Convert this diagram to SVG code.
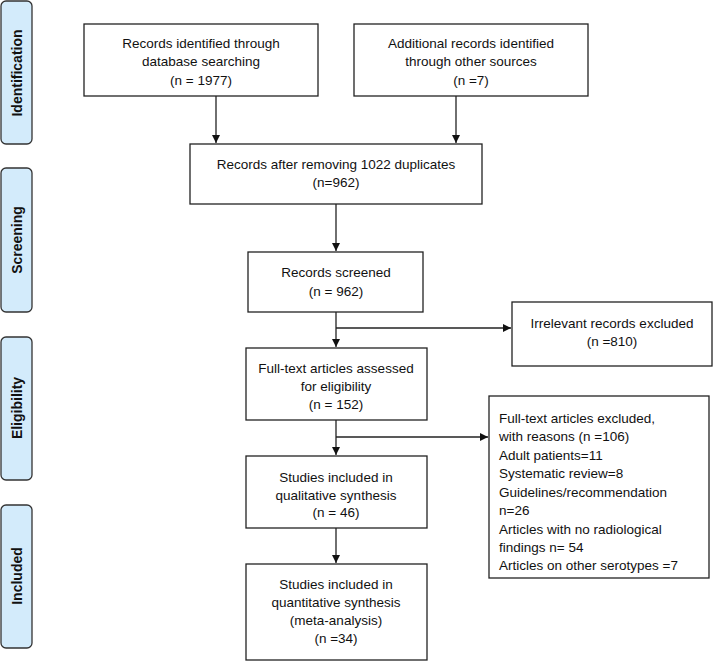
<svg xmlns="http://www.w3.org/2000/svg" width="713" height="661" viewBox="0 0 713 661">
<defs>
<style>
.box{fill:#fff;stroke:#222;stroke-width:1.3}
.side{fill:#d3ebfb;stroke:#333;stroke-width:1.3}
.t{font-family:"Liberation Sans",Arial,sans-serif;font-size:13.5px;fill:#111}
.c{text-anchor:middle}
.s{font-family:"Liberation Sans",Arial,sans-serif;font-size:14px;font-weight:bold;fill:#111;text-anchor:middle}
.ln{stroke:#222;stroke-width:1.3;fill:none}
</style>
<marker id="ah" markerWidth="10" markerHeight="10" refX="8" refY="4" orient="auto" markerUnits="userSpaceOnUse">
<path d="M0,0 L8,4 L0,8 Z" fill="#111"/>
</marker>
</defs>
<rect width="713" height="661" fill="#fff"/>

<g id="phase-identification">
<rect class="side" x="1" y="1" width="31" height="143" rx="5"/>
<text class="s" transform="translate(22,73) rotate(-90)">Identification</text>
</g>
<g id="phase-screening">
<rect class="side" x="1" y="168" width="31" height="144" rx="5"/>
<text class="s" transform="translate(22,240) rotate(-90)">Screening</text>
</g>
<g id="phase-eligibility">
<rect class="side" x="1" y="337" width="31" height="143" rx="5"/>
<text class="s" transform="translate(22,408) rotate(-90)">Eligibility</text>
</g>
<g id="phase-included">
<rect class="side" x="1" y="505" width="31" height="143" rx="5"/>
<text class="s" transform="translate(22,576) rotate(-90)">Included</text>
</g>

<g id="n1">
<rect class="box" x="84" y="24" width="234" height="72"/>
<text class="t c" x="201" y="48">Records identified through</text>
<text class="t c" x="201" y="66">database searching</text>
<text class="t c" x="201" y="85">(n = 1977)</text>
</g>
<g id="n2">
<rect class="box" x="354" y="24" width="234" height="72"/>
<text class="t c" x="471" y="48">Additional records identified</text>
<text class="t c" x="471" y="66">through other sources</text>
<text class="t c" x="471" y="85">(n =7)</text>
</g>
<g id="n3">
<rect class="box" x="190" y="144" width="292" height="60"/>
<text class="t c" x="336" y="169">Records after removing 1022 duplicates</text>
<text class="t c" x="336" y="187">(n=962)</text>
</g>
<g id="n4">
<rect class="box" x="248" y="252" width="175" height="60"/>
<text class="t c" x="336" y="277">Records screened</text>
<text class="t c" x="336" y="296">(n = 962)</text>
</g>
<g id="n5">
<rect class="box" x="512" y="302" width="200" height="64"/>
<text class="t c" x="612" y="328">Irrelevant records excluded</text>
<text class="t c" x="612" y="346">(n =810)</text>
</g>
<g id="n6">
<rect class="box" x="246" y="348" width="181" height="72"/>
<text class="t c" x="336" y="373">Full-text articles assessed</text>
<text class="t c" x="336" y="391">for eligibility</text>
<text class="t c" x="336" y="409">(n = 152)</text>
</g>
<g id="n7">
<rect class="box" x="489" y="396" width="220" height="182"/>
<text class="t" x="499" y="423">Full-text articles excluded,</text>
<text class="t" x="499" y="441">with reasons (n =106)</text>
<text class="t" x="499" y="460">Adult patients=11</text>
<text class="t" x="499" y="478">Systematic review=8</text>
<text class="t" x="499" y="497">Guidelines/recommendation</text>
<text class="t" x="499" y="515">n=26</text>
<text class="t" x="499" y="534">Articles with no radiological</text>
<text class="t" x="499" y="552">findings n= 54</text>
<text class="t" x="499" y="570">Articles on other serotypes =7</text>
</g>
<g id="n8">
<rect class="box" x="246" y="456" width="181" height="72"/>
<text class="t c" x="336" y="482">Studies included in</text>
<text class="t c" x="336" y="500">qualitative synthesis</text>
<text class="t c" x="336" y="517">(n = 46)</text>
</g>
<g id="n9">
<rect class="box" x="246" y="564" width="181" height="96"/>
<text class="t c" x="336" y="589">Studies included in</text>
<text class="t c" x="336" y="607">quantitative synthesis</text>
<text class="t c" x="336" y="625">(meta-analysis)</text>
<text class="t c" x="336" y="643">(n =34)</text>
</g>

<g id="connectors">
<line class="ln" x1="216" y1="96" x2="216" y2="143" marker-end="url(#ah)"/>
<line class="ln" x1="456" y1="96" x2="456" y2="143" marker-end="url(#ah)"/>
<line class="ln" x1="336" y1="204" x2="336" y2="251" marker-end="url(#ah)"/>
<line class="ln" x1="336" y1="312" x2="336" y2="347" marker-end="url(#ah)"/>
<line class="ln" x1="336" y1="328" x2="511" y2="328" marker-end="url(#ah)"/>
<line class="ln" x1="336" y1="420" x2="336" y2="455" marker-end="url(#ah)"/>
<line class="ln" x1="336" y1="437" x2="488" y2="437" marker-end="url(#ah)"/>
<line class="ln" x1="336" y1="528" x2="336" y2="563" marker-end="url(#ah)"/>
</g>
</svg>
